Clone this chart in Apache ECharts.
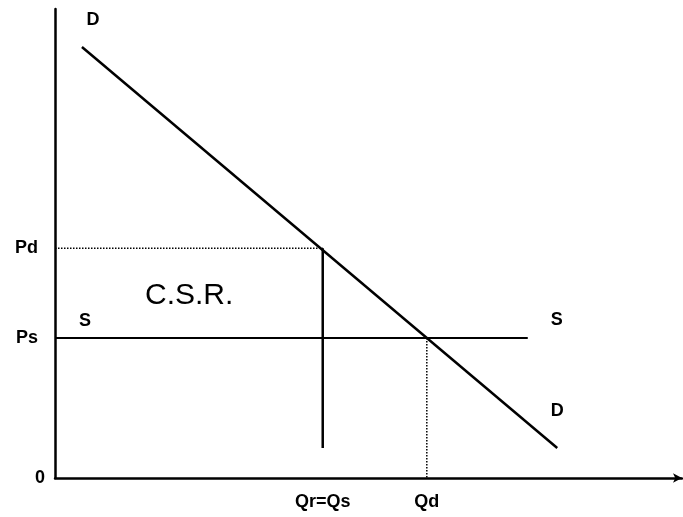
<!DOCTYPE html>
<html>
<head>
<meta charset="utf-8">
<script src="https://cdn.jsdelivr.net/npm/echarts@6/dist/echarts.min.js"></script>
<style>html,body{margin:0;padding:0;background:#fff}#c{width:683px;height:517px}</style>
</head>
<body>
<div id="c"></div>
<script>
// Values (arbitrary units, axes 0..100)
const demandX = [4.3, 80.1];
const demandY = [91.9, 6.4];
const supplyX = [0, 75.4];
const supplyY = [29.85, 29.85];
const pricePd = 49.0;
const pricePs = 29.85;
const qtyQr = 42.7;
const qtyQd = 59.3;
const qrBottom = 6.4;
const yTickValues = [0, 29.85, 49.0];
const yTickLabels = ['0', 'Ps', 'Pd'];
const xTickValues = [42.7, 59.3];
const xTickLabels = ['Qr=Qs', 'Qd'];
const curveLabels = { demand: 'D', supply: 'S' };
const areaLabel = 'C.S.R.';

const FONT = 'Liberation Sans, Arial, sans-serif';
const lblStyle = { color: '#000', fontFamily: FONT, fontWeight: 'bold', fontSize: 18 };

function pts(xs, ys) { return xs.map((x, i) => [x, ys[i]]); }

const demandData = pts(demandX, demandY).map((p, i) => ({
  value: p,
  label: Object.assign({ show: true, formatter: curveLabels.demand, position: 'inside',
    offset: i === 0 ? [11, -27] : [0, -37] }, lblStyle)
}));
const supplyData = pts(supplyX, supplyY).map((p, i) => ({
  value: p,
  label: Object.assign({ show: true, formatter: curveLabels.supply, position: 'inside',
    offset: i === 0 ? [30, -17] : [29, -18] }, lblStyle)
}));

const hiddenSym = { symbol: 'circle', symbolSize: 1, showSymbol: true,
  itemStyle: { color: 'rgba(0,0,0,0)', borderWidth: 0 } };

const chart = echarts.init(document.getElementById('c'));
chart.setOption({
  backgroundColor: '#fff',
  animation: false,
  grid: { left: 55, right: 1, top: 9, bottom: 39, containLabel: false },
  xAxis: {
    type: 'value', min: 0, max: 100,
    splitLine: { show: false },
    axisTick: { show: false },
    axisLine: { show: true, symbol: ['none', 'arrow'], symbolSize: [7, 9],
      lineStyle: { color: '#000', width: 2.5 } },
    axisLabel: {
      customValues: xTickValues, margin: 15,
      formatter: v => xTickLabels[xTickValues.indexOf(v)] || '',
      color: '#000', fontFamily: FONT, fontWeight: 'bold', fontSize: 18
    }
  },
  yAxis: {
    type: 'value', min: 0, max: 100,
    splitLine: { show: false },
    axisTick: { show: false },
    axisLine: { show: true, lineStyle: { color: '#000', width: 2.5 } },
    axisLabel: {
      customValues: yTickValues, margin: 10,
      formatter: v => {
        const t = yTickLabels[yTickValues.indexOf(v)] || '';
        return v === 0 ? '{z|' + t + '}' : '{p|' + t + '}';
      },
      rich: {
        z: { color: '#000', fontFamily: FONT, fontWeight: 'bold', fontSize: 18 },
        p: { color: '#000', fontFamily: FONT, fontWeight: 'bold', fontSize: 18, padding: [0, 7, 0, 0] }
      }
    }
  },
  graphic: [{
    type: 'text', left: 145, top: 281,
    style: { text: areaLabel, fill: '#000', font: '30px ' + FONT }
  }],
  series: [
    Object.assign({ type: 'line', name: 'Demand', data: demandData,
      lineStyle: { color: '#000', width: 2.5 }, silent: true }, hiddenSym),
    Object.assign({ type: 'line', name: 'Supply', data: supplyData,
      lineStyle: { color: '#000', width: 2.2 }, silent: true }, hiddenSym),
    { type: 'line', name: 'Qr', data: [[qtyQr, pricePd], [qtyQr, qrBottom]], symbol: 'none',
      lineStyle: { color: '#000', width: 2.5 }, silent: true },
    { type: 'line', name: 'Pd guide', data: [[0, pricePd], [qtyQr, pricePd]], symbol: 'none',
      lineStyle: { color: '#000', width: 1.5, type: 'dotted' }, silent: true },
    { type: 'line', name: 'Qd guide', data: [[qtyQd, pricePs], [qtyQd, 0]], symbol: 'none',
      lineStyle: { color: '#000', width: 1.5, type: 'dotted' }, silent: true }
  ]
});
</script>
</body>
</html>
